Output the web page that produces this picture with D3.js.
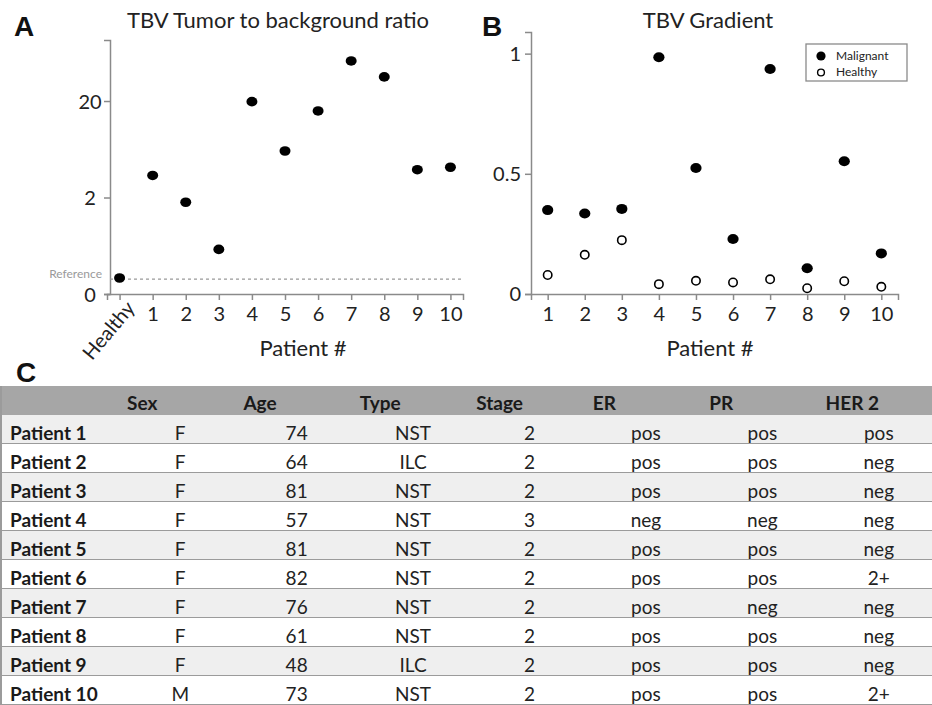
<!DOCTYPE html>
<html>
<head>
<meta charset="utf-8">
<script src="https://cdn.jsdelivr.net/npm/d3@7"></script>
<style>
  body { margin: 0; background: #fff; }
  svg { display: block; font-family: Lato, 'Open Sans', sans-serif; }
  .axis path, .axis line { stroke: #8a8a8a; stroke-width: 1.5; }
  .axis text { fill: #222; font-family: Lato, sans-serif; }
</style>
</head>
<body>
<div id="chart"></div>
<script>
// panel A: tumor to background ratio
const categoriesA = ['Healthy', '1', '2', '3', '4', '5', '6', '7', '8', '9', '10']
const ratioValues = [0.11, 3.47, 1.77, 0.44, 19.7, 6.24, 15.9, 50.2, 34.8, 3.99, 4.23]
const referenceValue = 0.1
const ticksA = [0, 2, 20]

// panel B: gradient
const patients = ['1', '2', '3', '4', '5', '6', '7', '8', '9', '10']
const malignantGradient = [0.349, 0.335, 0.354, 0.985, 0.524, 0.229, 0.936, 0.107, 0.552, 0.169]
const healthyGradient = [0.079, 0.163, 0.224, 0.041, 0.055, 0.048, 0.061, 0.024, 0.053, 0.030]
const ticksB = [0, 0.5, 1]
const legendLabels = ['Malignant', 'Healthy']

// panel C: patient table
const tableColumns = ['Sex', 'Age', 'Type', 'Stage', 'ER', 'PR', 'HER 2']
const patientNames = patients.map((p) => `Patient ${p}`)
const sex = ['F', 'F', 'F', 'F', 'F', 'F', 'F', 'F', 'F', 'M']
const age = [74, 64, 81, 57, 81, 82, 76, 61, 48, 73]
const tumorType = ['NST', 'ILC', 'NST', 'NST', 'NST', 'NST', 'NST', 'NST', 'ILC', 'NST']
const stage = [2, 2, 2, 3, 2, 2, 2, 2, 2, 2]
const er = ['pos', 'pos', 'pos', 'neg', 'pos', 'pos', 'pos', 'pos', 'pos', 'pos']
const pr = ['pos', 'pos', 'pos', 'neg', 'pos', 'pos', 'neg', 'pos', 'pos', 'pos']
const her2 = ['pos', 'neg', 'neg', 'neg', 'neg', '2+', 'neg', 'neg', 'neg', '2+']

const width = 932
const height = 705

const svg = d3.select('#chart')
  .append('svg')
  .attr('width', width)
  .attr('height', height)

function panelLetter(label, x, y) {
  svg.append('text')
    .attr('x', x)
    .attr('y', y)
    .style('font-family', 'Liberation Sans, Arial, sans-serif')
    .style('font-weight', 'bold')
    .style('font-size', '28px')
    .attr('fill', '#111')
    .text(label)
}

// ---- A ----
const xA = d3.scalePoint()
  .domain(categoriesA)
  .range([107, 463])
  .padding(0.38)

const yA = d3.scaleSymlog()
  .constant(0.25)
  .domain([0, 81])
  .range([294, 40])

panelLetter('A', 14, 36)

svg.append('text')
  .attr('x', 278)
  .attr('y', 28)
  .attr('text-anchor', 'middle')
  .style('font-size', '22px')
  .attr('fill', '#222')
  .text('TBV Tumor to background ratio')

const axisYA = svg.append('g')
  .attr('class', 'axis')
  .attr('transform', 'translate(110,0)')
  .call(d3.axisLeft(yA).tickValues(ticksA).tickFormat((d) => d).tickSizeOuter(0).tickSize(6))
axisYA.selectAll('text')
  .style('font-size', '20px')
  .attr('text-anchor', 'middle')
  .attr('x', -20)
  .attr('dy', '0.37em')

const axisXA = svg.append('g')
  .attr('class', 'axis')
  .attr('transform', `translate(0,${yA(0)})`)
  .call(d3.axisBottom(xA).tickSizeOuter(0).tickSize(6))
axisXA.selectAll('text')
  .style('font-size', '20px')
  .attr('dy', '0.9em')
axisXA.selectAll('.tick')
  .filter((d) => d === 'Healthy')
  .select('text')
  .attr('text-anchor', 'end')
  .attr('dy', '0.85em')
  .attr('transform', 'translate(-4,-2) rotate(-50)')

// reference line
svg.append('line')
  .attr('x1', 110)
  .attr('x2', xA.range()[1])
  .attr('y1', yA(referenceValue))
  .attr('y2', yA(referenceValue))
  .attr('stroke', '#999')
  .attr('stroke-width', 1.3)
  .attr('stroke-dasharray', '3,3')

svg.append('text')
  .attr('x', 102)
  .attr('y', yA(referenceValue) - 1)
  .attr('text-anchor', 'end')
  .style('font-size', '12px')
  .attr('fill', '#9a9a9a')
  .text('Reference')

svg.append('g')
  .selectAll('ellipse')
  .data(ratioValues)
  .join('ellipse')
  .attr('cx', (d, i) => xA(categoriesA[i]))
  .attr('cy', (d) => yA(d))
  .attr('rx', 5.5)
  .attr('ry', 4.8)
  .attr('fill', '#000')

svg.append('text')
  .attr('x', 303)
  .attr('y', 356)
  .attr('text-anchor', 'middle')
  .style('font-size', '22px')
  .attr('fill', '#222')
  .text('Patient #')

// ---- B ----
const xB = d3.scalePoint()
  .domain(patients)
  .range([531, 898])
  .padding(0.45)

const yB = d3.scaleLinear()
  .domain([0, 1.09])
  .range([294, 32])

panelLetter('B', 482, 36)

svg.append('text')
  .attr('x', 708)
  .attr('y', 28)
  .attr('text-anchor', 'middle')
  .style('font-size', '22px')
  .attr('fill', '#222')
  .text('TBV Gradient')

const axisYB = svg.append('g')
  .attr('class', 'axis')
  .attr('transform', 'translate(531,0)')
  .call(d3.axisLeft(yB).tickValues(ticksB).tickFormat((d) => d).tickSizeOuter(0).tickSize(6))
axisYB.selectAll('text')
  .style('font-size', '20px')
  .attr('x', -10)

const axisXB = svg.append('g')
  .attr('class', 'axis')
  .attr('transform', `translate(0,${yB(0)})`)
  .call(d3.axisBottom(xB).tickSizeOuter(0).tickSize(6))
axisXB.selectAll('text')
  .style('font-size', '20px')
  .attr('dy', '0.9em')

svg.append('g')
  .selectAll('circle')
  .data(healthyGradient)
  .join('circle')
  .attr('cx', (d, i) => xB(patients[i]))
  .attr('cy', (d) => yB(d))
  .attr('r', 4.2)
  .attr('fill', '#fff')
  .attr('stroke', '#000')
  .attr('stroke-width', 1.6)

svg.append('g')
  .selectAll('ellipse')
  .data(malignantGradient)
  .join('ellipse')
  .attr('cx', (d, i) => xB(patients[i]))
  .attr('cy', (d) => yB(d))
  .attr('rx', 5.6)
  .attr('ry', 5)
  .attr('fill', '#000')

svg.append('text')
  .attr('x', 710)
  .attr('y', 356)
  .attr('text-anchor', 'middle')
  .style('font-size', '22px')
  .attr('fill', '#222')
  .text('Patient #')

// legend
const legend = svg.append('g').attr('transform', 'translate(806,44)')
legend.append('rect')
  .attr('width', 101)
  .attr('height', 37)
  .attr('fill', '#fff')
  .attr('stroke', '#8a8a8a')
  .attr('stroke-width', 1.3)
legend.selectAll('text')
  .data(legendLabels)
  .join('text')
  .attr('x', 30)
  .attr('y', (d, i) => 16 + i * 16)
  .style('font-size', '12px')
  .attr('fill', '#222')
  .text((d) => d)
legend.append('circle')
  .attr('cx', 15).attr('cy', 12).attr('r', 4.6)
  .attr('fill', '#000')
legend.append('circle')
  .attr('cx', 15).attr('cy', 28.5).attr('r', 3.4)
  .attr('fill', '#fff')
  .attr('stroke', '#000')
  .attr('stroke-width', 1.4)

// ---- C ----
panelLetter('C', 16, 382)

const rows = patientNames.map((name, i) => ({
  name,
  cells: [sex[i], age[i], tumorType[i], stage[i], er[i], pr[i], her2[i]]
}))

const headerTop = 386
const yRow = d3.scaleBand()
  .domain(patientNames)
  .range([415, 705])

const xCol = d3.scaleBand()
  .domain(tableColumns)
  .range([122, 937])

const table = svg.append('g').style('font-size', '19px')

table.append('rect')
  .attr('x', 0)
  .attr('y', headerTop)
  .attr('width', width)
  .attr('height', yRow.range()[0] - headerTop)
  .attr('fill', '#a6a6a6')

table.selectAll('text.head')
  .data(tableColumns)
  .join('text')
  .attr('class', 'head')
  .attr('x', (d) => xCol(d) + 5)
  .attr('y', yRow.range()[0] - 5)
  .style('font-weight', 'bold')
  .attr('fill', '#1a1a1a')
  .text((d) => d)

const row = table.selectAll('g.row')
  .data(rows)
  .join('g')
  .attr('class', 'row')
  .attr('transform', (d) => `translate(0,${yRow(d.name)})`)

row.append('rect')
  .attr('width', width)
  .attr('height', yRow.bandwidth())
  .attr('fill', (d, i) => i % 2 === 0 ? '#efefef' : '#fff')

row.append('line')
  .attr('x1', 0)
  .attr('x2', width)
  .attr('y1', yRow.bandwidth())
  .attr('y2', yRow.bandwidth())
  .attr('stroke', '#9b9b9b')
  .attr('stroke-width', 2)

row.append('text')
  .attr('x', 10)
  .attr('y', yRow.bandwidth() - 4)
  .style('font-weight', 'bold')
  .attr('fill', '#1a1a1a')
  .text((d) => d.name)

row.selectAll('text.cell')
  .data((d) => d.cells)
  .join('text')
  .attr('class', 'cell')
  .attr('x', (d, i) => xCol(tableColumns[i]) + xCol.bandwidth() / 2)
  .attr('y', yRow.bandwidth() - 4)
  .attr('text-anchor', 'middle')
  .attr('fill', '#222')
  .text((d) => d)

table.append('line')
  .attr('x1', 1)
  .attr('x2', 1)
  .attr('y1', headerTop)
  .attr('y2', height)
  .attr('stroke', '#9b9b9b')
  .attr('stroke-width', 2)
</script>
</body>
</html>
